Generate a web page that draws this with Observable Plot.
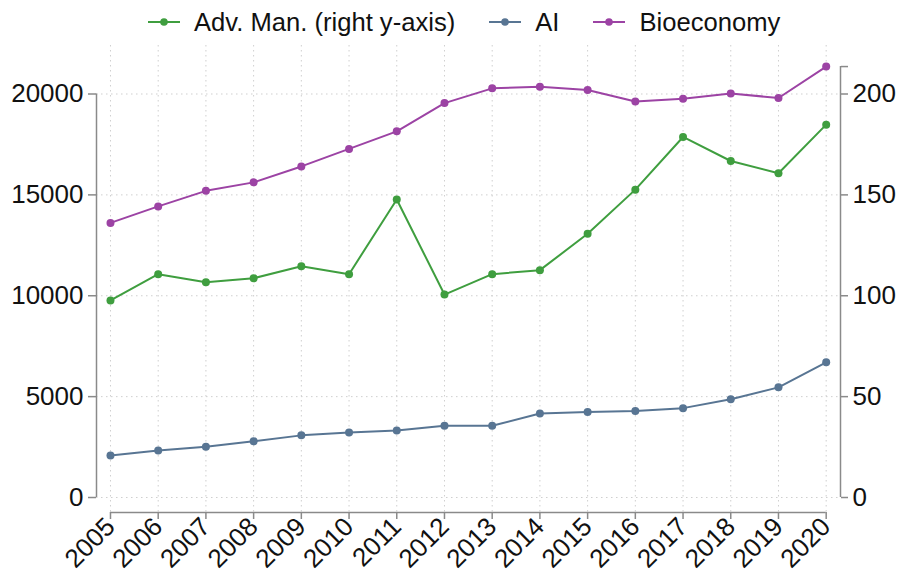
<!DOCTYPE html>
<html><head><meta charset="utf-8">
<script src="https://cdn.jsdelivr.net/npm/d3@7"></script>
<script src="https://cdn.jsdelivr.net/npm/@observablehq/plot@0.6"></script>
<style>
body{margin:0;background:#fff;font-family:"Liberation Sans",Arial,sans-serif;}
#legend{height:44px;display:flex;align-items:center;padding-left:148px;font-size:25.6px;color:#111;}
.item{display:flex;align-items:center;margin-right:34px;}
.item svg{margin-right:14px;}
#chart svg{display:block;}
</style></head><body>
<div id="legend"></div><div id="chart"></div>
<script>
const years = [2005,2006,2007,2008,2009,2010,2011,2012,2013,2014,2015,2016,2017,2018,2019,2020];
const advMan = [97.7,110.7,106.7,108.7,114.6,110.7,147.7,100.6,110.7,112.7,130.7,152.6,178.7,166.8,160.7,184.8];
const ai = [2080,2330,2520,2790,3080,3220,3320,3560,3560,4160,4240,4290,4430,4870,5460,6700];
const bio = [13610,14430,15200,15620,16410,17280,18150,19550,20280,20360,20200,19630,19770,20030,19800,21360];
const seriesNames = ["Adv. Man. (right y-axis)", "AI", "Bioeconomy"];
const seriesColors = ["#3f9e3f", "#587593", "#9c43a4"];
const leftTicks = [0, 5000, 10000, 15000, 20000];
const rightTicks = [0, 50, 100, 150, 200];
const rightFactor = 100; // right axis unit -> left axis unit

// legend
const legend = document.getElementById("legend");
seriesNames.forEach((name, i) => {
  const it = document.createElement("div");
  it.className = "item";
  it.innerHTML = `<svg width="32" height="12"><line x1="0" x2="32" y1="6" y2="6" stroke="${seriesColors[i]}" stroke-width="2"/><circle cx="16" cy="6" r="3.8" fill="${seriesColors[i]}"/></svg><span>${name}</span>`;
  legend.appendChild(it);
});

const rows = [];
years.forEach((y, i) => {
  rows.push({year: y, series: seriesNames[0], v: advMan[i] * rightFactor});
  rows.push({year: y, series: seriesNames[1], v: ai[i]});
  rows.push({year: y, series: seriesNames[2], v: bio[i]});
});

const xDomain = [2004.707, 2020.30];
const yDomain = [-743, 22404];
const gridStyle = {stroke: "#cfcfcf", strokeDasharray: "1.5,3.5", strokeWidth: 1};
const axisColor = "#8a8a8a";
const rightTop = d3.max(bio);
const fs = 26;

const chart = Plot.plot({
  width: 897,
  height: 530,
  marginTop: 1,
  marginBottom: 62,
  marginLeft: 96,
  marginRight: 57,
  style: {fontFamily: "'Liberation Sans', Arial, sans-serif", background: "white", color: "#111"},
  x: {domain: xDomain, axis: null},
  y: {domain: yDomain, axis: null},
  color: {domain: seriesNames, range: seriesColors},
  marks: [
    Plot.ruleY(leftTicks, {...gridStyle}),
    Plot.ruleX(years, {...gridStyle}),
    Plot.ruleX([xDomain[0]], {y1: 0, y2: leftTicks[leftTicks.length - 1], stroke: axisColor, strokeWidth: 1.5}),
    Plot.ruleX([xDomain[1]], {y1: 0, y2: rightTop, stroke: axisColor, strokeWidth: 1.5}),
    Plot.ruleY([yDomain[0]], {x1: years[0], x2: years[years.length - 1], stroke: axisColor, strokeWidth: 1.5}),
    Plot.axisY({anchor: "left", ticks: leftTicks, tickSize: 8, tickPadding: 5, fontSize: fs, stroke: axisColor, strokeWidth: 1.5, fill: "#111", tickFormat: d => String(d), label: null}),
    Plot.axisY({anchor: "right", ticks: [...rightTicks.map(v => v * rightFactor), rightTop], tickSize: 7, tickPadding: 5, fontSize: fs, stroke: axisColor, strokeWidth: 1.5, fill: "#111", tickFormat: d => rightTicks.includes(d / rightFactor) ? String(d / rightFactor) : "", label: null}),
    Plot.axisX({anchor: "bottom", ticks: years, tickSize: 7, tickPadding: 3, tickRotate: -45, fontSize: fs, stroke: axisColor, strokeWidth: 1.5, fill: "#111", tickFormat: d => String(d), label: null}),
    Plot.line(rows, {x: "year", y: "v", z: "series", stroke: "series", strokeWidth: 2}),
    Plot.dot(rows, {x: "year", y: "v", fill: "series", r: 4, stroke: null})
  ]
});
document.getElementById("chart").appendChild(chart);
</script>
</body></html>
